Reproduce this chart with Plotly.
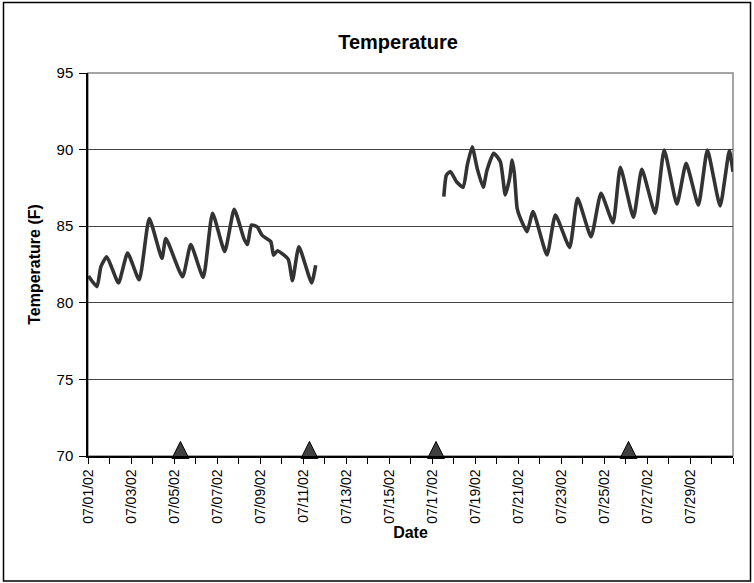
import plotly.graph_objects as go

# Temperature readings; None marks the data gap
times = [
    "2002-07-01 00:30", "2002-07-01 10:00", "2002-07-01 14:25", "2002-07-01 21:00",
    "2002-07-02 10:00", "2002-07-02 20:10", "2002-07-03 09:10", "2002-07-03 20:25",
    "2002-07-04 10:35", "2002-07-04 14:53", "2002-07-05 09:35", "2002-07-05 18:43",
    "2002-07-06 08:38", "2002-07-06 19:00", "2002-07-07 08:38", "2002-07-07 19:12",
    "2002-07-08 06:00", "2002-07-08 10:05", "2002-07-08 14:24", "2002-07-08 20:53",
    "2002-07-09 02:24", "2002-07-09 12:00", "2002-07-09 15:07", "2002-07-09 19:26",
    "2002-07-10 07:26", "2002-07-10 12:14", "2002-07-10 19:26", "2002-07-11 09:36",
    "2002-07-11 14:10",
    "2002-07-14 12:00",
    "2002-07-17 13:12", "2002-07-17 16:05", "2002-07-17 20:38", "2002-07-18 03:22",
    "2002-07-18 10:48", "2002-07-18 15:22", "2002-07-18 20:53", "2002-07-19 02:24",
    "2002-07-19 09:07", "2002-07-19 13:26", "2002-07-19 20:53", "2002-07-20 04:19",
    "2002-07-20 09:50", "2002-07-20 14:38", "2002-07-20 17:31", "2002-07-20 19:55",
    "2002-07-20 23:02", "2002-07-21 01:55", "2002-07-21 10:05", "2002-07-21 16:48",
    "2002-07-22 08:24", "2002-07-22 17:46", "2002-07-23 09:36", "2002-07-23 18:29",
    "2002-07-24 09:36", "2002-07-24 20:38", "2002-07-25 10:05", "2002-07-25 18:14",
    "2002-07-26 08:53", "2002-07-26 18:14", "2002-07-27 09:07", "2002-07-27 19:12",
    "2002-07-28 09:22", "2002-07-28 19:41", "2002-07-29 09:22", "2002-07-29 19:26",
    "2002-07-30 09:36", "2002-07-30 19:55", "2002-07-31 00:00",
]
temps = [
    81.75, 81.05, 82.36, 83.0,
    81.3, 83.25, 81.5, 85.5,
    82.9, 84.2, 81.7, 83.8,
    81.65, 85.85, 83.35, 86.1,
    84.2, 83.8, 85.08, 84.95,
    84.4, 84.0, 83.1, 83.4,
    82.85, 81.45, 83.66, 81.3,
    82.45,
    None,
    86.93, 88.34, 88.56, 87.9,
    87.54, 88.99, 90.19, 88.78,
    87.54, 88.67, 89.76, 89.21,
    87.04, 88.13, 89.32, 88.45,
    86.17, 85.62, 84.64, 85.95,
    83.12, 85.73, 83.62, 86.82,
    84.31, 87.15, 85.23, 88.84,
    85.58, 88.71, 85.84, 89.97,
    86.45, 89.1, 86.38, 89.97,
    86.32, 89.93, 88.56,
]

# Event markers along the bottom of the chart
event_times = ["2002-07-05 07:12", "2002-07-11 07:12", "2002-07-17 04:30", "2002-07-26 03:20"]
event_values = [70.95, 70.95, 70.95, 70.95]

# Labelled date ticks
tick_dates = ["2002-07-01", "2002-07-03", "2002-07-05", "2002-07-07", "2002-07-09",
              "2002-07-11", "2002-07-13", "2002-07-15", "2002-07-17", "2002-07-19",
              "2002-07-21", "2002-07-23", "2002-07-25", "2002-07-27", "2002-07-29"]

x_range = ["2002-07-01", "2002-07-31"]
y_range = [70, 95]

FONT = "Liberation Sans, Arial, sans-serif"

fig = go.Figure()
fig.add_trace(go.Scatter(
    x=times, y=temps, mode="lines", connectgaps=False,
    line=dict(color="#333333", width=3.6, shape="spline", smoothing=0.5),
    showlegend=False, hoverinfo="x+y",
))
fig.add_trace(go.Scatter(
    x=event_times, y=event_values, mode="markers", cliponaxis=False,
    marker=dict(symbol="arrow-up", size=17, color="#404040",
                line=dict(color="#000000", width=1)),
    showlegend=False,
))

W, H = 754, 583
L, R, T, B = 88, 21, 73, 127
pw, ph = W - L - R, H - T - B

def px_x(p):
    return (p - L) / pw

def px_y(p):
    return (H - B - p) / ph

fig.update_layout(
    width=W, height=H,
    margin=dict(l=L, r=R, t=T, b=B, autoexpand=False),
    paper_bgcolor="white", plot_bgcolor="white",
    font=dict(family=FONT, color="black", size=15),
    title=dict(text="<b>Temperature</b>", x=398 / W, xref="container", xanchor="center",
               y=1 - 42 / H, yanchor="middle", yref="container",
               font=dict(size=20, family=FONT, color="black")),
    xaxis=dict(
        type="date", range=x_range, tickmode="array", tickvals=tick_dates,
        tickformat="%m/%d/%y", tickangle=-90, ticks="outside", ticklen=6,
        tickcolor="black", tickfont=dict(size=14, family=FONT),
        showline=True, linecolor="black", linewidth=1.5, showgrid=False,
        zeroline=False,
        minor=dict(dtick=86400000, tick0="2002-07-01", ticks="outside",
                   ticklen=6, tickcolor="black", showgrid=False),
        title=dict(text="<b>Date</b>", font=dict(size=16, family=FONT), standoff=3),
    ),
    yaxis=dict(
        range=y_range, dtick=5, ticks="outside", ticklen=7, tickcolor="black",
        tickfont=dict(size=15, family=FONT), ticklabelstandoff=3,
        showline=True, linecolor="black", linewidth=1.5,
        showgrid=True, gridcolor="#444444", gridwidth=1, zeroline=False,
        title=dict(text="<b>Temperature (F)</b>", font=dict(size=16, family=FONT),
                   standoff=12),
    ),
    shapes=[
        dict(type="rect", xref="x domain", yref="y domain", x0=0, x1=1, y0=0, y1=1,
             line=dict(color="#888888", width=1.5), layer="below"),
        dict(type="rect", xref="paper", yref="paper",
             x0=px_x(3.5), x1=px_x(750.5), y0=px_y(581), y1=px_y(2.5),
             line=dict(color="black", width=1.5)),
    ],
)

fig.write_html("out.html", config={"displayModeBar": False},
               post_script="document.body.style.margin='0';document.body.style.overflow='hidden';")
